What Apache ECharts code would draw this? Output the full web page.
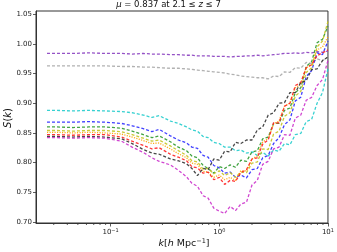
<!DOCTYPE html>
<html><head><meta charset="utf-8">
<script src="https://cdn.jsdelivr.net/npm/echarts@6/dist/echarts.min.js"></script>
<style>html,body{margin:0;padding:0;background:#fff}#c{width:337px;height:252px}</style>
</head><body><div id="c"></div>
<script>
const kValues = [0.026,0.032,0.045,0.063,0.089,0.126,0.158,0.2,0.24,0.28,0.355,0.42,0.5,0.56,0.63,0.71,0.79,0.89,1.0,1.12,1.26,1.41,1.58,1.78,2.0,2.24,2.51,2.82,3.16,3.55,3.98,4.47,5.01,5.62,6.31,7.08,7.94,8.91,10.0];
const sPurple = [0.984,0.984,0.984,0.985,0.984,0.984,0.983,0.984,0.983,0.983,0.982,0.982,0.981,0.981,0.980,0.980,0.980,0.979,0.979,0.979,0.978,0.979,0.979,0.980,0.980,0.981,0.980,0.981,0.982,0.983,0.984,0.984,0.985,0.984,0.986,0.985,0.987,0.986,0.988];
const sGrey = [0.963,0.963,0.963,0.963,0.963,0.962,0.962,0.961,0.961,0.960,0.959,0.959,0.958,0.957,0.956,0.955,0.954,0.953,0.952,0.951,0.949,0.948,0.946,0.945,0.944,0.943,0.943,0.941,0.946,0.945,0.953,0.952,0.960,0.959,0.969,0.967,0.975,0.972,0.978];
const sCyan = [0.888,0.888,0.887,0.888,0.887,0.886,0.884,0.880,0.876,0.879,0.870,0.866,0.860,0.855,0.853,0.844,0.842,0.834,0.832,0.826,0.826,0.820,0.821,0.816,0.818,0.812,0.817,0.811,0.821,0.819,0.832,0.830,0.847,0.849,0.869,0.873,0.900,0.918,0.958];
const sBlue = [0.868,0.868,0.868,0.869,0.868,0.866,0.862,0.857,0.852,0.856,0.845,0.838,0.833,0.826,0.824,0.812,0.809,0.795,0.791,0.782,0.784,0.775,0.779,0.774,0.788,0.790,0.808,0.812,0.832,0.842,0.864,0.872,0.904,0.910,0.945,0.955,0.985,0.982,1.005];
const sGreen = [0.860,0.860,0.859,0.860,0.860,0.858,0.853,0.847,0.842,0.845,0.835,0.826,0.820,0.811,0.808,0.795,0.790,0.782,0.793,0.790,0.796,0.792,0.804,0.802,0.818,0.820,0.840,0.843,0.866,0.866,0.888,0.892,0.918,0.926,0.962,0.970,1.002,1.008,1.030];
const sYellow = [0.854,0.854,0.853,0.854,0.854,0.852,0.847,0.841,0.836,0.838,0.828,0.820,0.812,0.803,0.801,0.789,0.790,0.781,0.786,0.778,0.783,0.775,0.784,0.783,0.799,0.801,0.823,0.822,0.848,0.853,0.878,0.884,0.912,0.920,0.952,0.960,0.995,1.005,1.038];
const sOrange = [0.851,0.851,0.850,0.851,0.850,0.848,0.843,0.837,0.832,0.833,0.823,0.815,0.808,0.799,0.797,0.785,0.784,0.775,0.779,0.771,0.775,0.770,0.786,0.786,0.806,0.811,0.835,0.840,0.865,0.870,0.895,0.900,0.926,0.932,0.960,0.965,0.990,0.995,1.012];
const sRed = [0.847,0.847,0.846,0.847,0.847,0.843,0.836,0.829,0.823,0.825,0.814,0.809,0.803,0.793,0.791,0.782,0.784,0.771,0.775,0.763,0.770,0.768,0.783,0.788,0.806,0.808,0.831,0.838,0.867,0.867,0.895,0.900,0.930,0.935,0.960,0.965,0.980,0.985,0.990];
const sBlack = [0.844,0.844,0.843,0.844,0.843,0.840,0.832,0.822,0.816,0.814,0.806,0.803,0.798,0.790,0.778,0.790,0.788,0.806,0.804,0.819,0.818,0.834,0.832,0.838,0.838,0.855,0.860,0.880,0.884,0.900,0.901,0.918,0.918,0.935,0.938,0.957,0.958,0.972,0.978];
const sMagenta = [0.842,0.842,0.841,0.842,0.841,0.836,0.826,0.817,0.808,0.802,0.796,0.787,0.776,0.765,0.760,0.744,0.740,0.723,0.718,0.714,0.726,0.719,0.730,0.733,0.762,0.770,0.797,0.802,0.823,0.826,0.847,0.846,0.875,0.880,0.905,0.910,0.930,0.940,0.972];
const xTickLabels = {'-1':'10{sup|−1}','0':'10{sup|0}','1':'10{sup|1}'};
const yTicks = ['0.70','0.75','0.80','0.85','0.90','0.95','1.00','1.05'];
const minorK = [0.03,0.04,0.05,0.06,0.07,0.08,0.09,0.2,0.3,0.4,0.5,0.6,0.7,0.8,0.9,2,3,4,5,6,7,8,9];

const seriesDefs = [
  {name:'a', data:sPurple, color:'#8a3fc0', dash:[3,2]},
  {name:'b', data:sGrey, color:'#a9a9a9', dash:[3,2]},
  {name:'c', data:sCyan, color:'#22cccc', dash:[3,2]},
  {name:'d', data:sBlue, color:'#2b2bff', dash:[3,2]},
  {name:'e', data:sGreen, color:'#2e9a2e', dash:[3,2]},
  {name:'f', data:sYellow, color:'#c4c420', dash:[3,2]},
  {name:'g', data:sOrange, color:'#ffa500', dash:[1.2,1.3]},
  {name:'h', data:sRed, color:'#ff2020', dash:[3,2]},
  {name:'i', data:sBlack, color:'#333333', dash:[3,2]},
  {name:'j', data:sMagenta, color:'#cc33cc', dash:[3,2]}
];
const YMIN = 0.698, YMAX = 1.0556;
const chart = echarts.init(document.getElementById('c'), null, {renderer:'canvas'});
const FONT = 'DejaVu Sans';
const series = seriesDefs.map(s => ({
  type:'line', name:s.name, showSymbol:false, symbol:'none', animation:false,
  data: kValues.map((k,i)=>[k, s.data[i]]),
  lineStyle:{color:s.color, width:1.3, type:s.dash, opacity:0.9}
}));
series.push({
  type:'custom', silent:true, animation:false, clip:false,
  data: minorK.map(k=>[k, YMIN]),
  renderItem:(params, api)=>{
    const p = api.coord([api.value(0), api.value(1)]);
    return {type:'line', shape:{x1:p[0], y1:p[1], x2:p[0], y2:p[1]+2}, style:{stroke:'#333', lineWidth:0.8}};
  }
});
chart.setOption({
  animation:false,
  grid:{left:36, right:5, top:11, bottom:29, containLabel:false, show:true, borderColor:'#333', borderWidth:1},
  xAxis:{type:'log', min:0.0206, max:10, logBase:10,
    axisLine:{show:true, lineStyle:{color:'#333', width:1}},
    axisTick:{show:true, inside:false, length:3.5, lineStyle:{color:'#333', width:0.8}},
    splitLine:{show:false}, minorTick:{show:false},
    axisLabel:{showMinLabel:false, showMaxLabel:true, margin:5, color:'#222', fontFamily:FONT, fontSize:7,
      formatter:v=>{const e=Math.round(Math.log10(v)); return xTickLabels[String(e)]||'';},
      rich:{sup:{fontSize:5, verticalAlign:'top', fontFamily:FONT, color:'#222', padding:[0,0,4,0]}}}
  },
  yAxis:{type:'value', min:YMIN, max:YMAX, splitNumber:7,
    axisLine:{show:true, lineStyle:{color:'#333', width:1}},
    axisTick:{show:true, inside:false, length:3, lineStyle:{color:'#333', width:0.8}},
    splitLine:{show:false},
    axisLabel:{showMinLabel:false, showMaxLabel:false, margin:4, color:'#222', fontFamily:FONT, fontSize:7,
      formatter:v=>{const t=v.toFixed(2); return yTicks.indexOf(t)>=0?t:'';}}
  },
  graphic:[
    {type:'text', left:'center', top:0, style:{text:'{i|μ} = 0.837 at 2.1 ≤ {i|z} ≤ 7', fontFamily:FONT, fontSize:8.5, fill:'#111',
      rich:{i:{fontStyle:'italic', fontFamily:FONT, fontSize:8.5, fill:'#111'}}}},
    {type:'text', x:184, y:244, style:{text:'{i|k}[{i|h} Mpc{sup|−1}]', fontFamily:FONT, fontSize:9.5, fill:'#111', align:'center', verticalAlign:'middle',
      rich:{i:{fontStyle:'italic', fontFamily:FONT, fontSize:9.5}, sup:{fontSize:6.5, fontFamily:FONT, verticalAlign:'top', padding:[0,0,5,0]}}}},
    {type:'text', x:8.5, y:118, rotation:Math.PI/2, style:{text:'{i|S}({i|k})', fontFamily:FONT, fontSize:10, fill:'#111', align:'center', verticalAlign:'middle',
      rich:{i:{fontStyle:'italic', fontFamily:FONT, fontSize:10}}}}
  ],
  series:series
});
</script></body></html>
